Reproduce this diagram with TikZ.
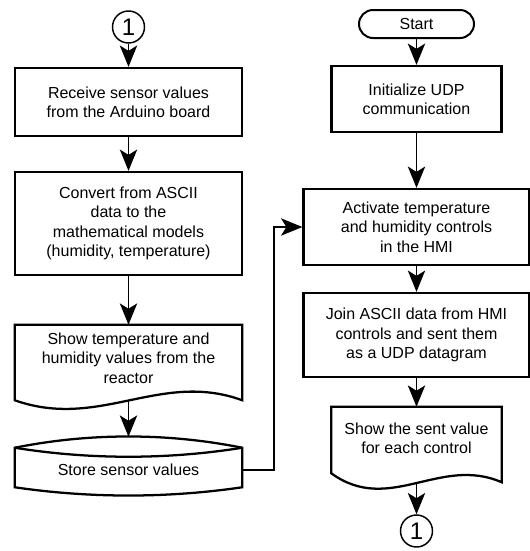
\documentclass[tikz,border=0pt]{standalone}
\usepackage{fontspec}
\setmainfont{Liberation Sans}
\usetikzlibrary{arrows.meta,calc,shapes.misc}

\begin{document}
\begin{tikzpicture}[x=0.75pt,y=-0.75pt,
	txt/.style={align=center,font=\fontsize{12}{14.5}\selectfont,inner sep=0pt},
	procbox/.style={txt,draw,line width=1.7pt,minimum width=170.25pt},
	docbox/.style={txt,minimum width=170.25pt},
	outline/.style={line width=1.7pt},
	termbox/.style={txt,draw,line width=1.5pt,rounded corners=10.5pt,minimum width=86.25pt,minimum height=21pt},
	onpage/.style={circle,draw,line width=1.1pt,minimum size=24pt,inner sep=0pt,font=\fontsize{18}{18}\selectfont},
	conn/.style={draw,line width=1.3pt,-{Stealth[length=16pt,width=13pt,inset=4pt]}}]
	\useasboundingbox (0,0) rectangle (530,551);
	
	%Left column
	\node[onpage] (c1) at (128.5,27) {1};
	\node[procbox,minimum height=51pt] (recv) at (128.5,102) {Receive sensor values\\from the Arduino board};
	\node[procbox,minimum height=77.25pt] (conv) at (128.5,223.5) {Convert from ASCII\\data to the\\mathematical models\\(humidity, temperature)};
	\node[docbox,minimum height=49.5pt] (show) at (128.5,358) {Show temperature and\\humidity values from the\\reactor};
	\node[docbox,minimum height=25.5pt] (store) at (128.5,470) {Store sensor values};
	
	%Right column
	\node[termbox] (start) at (416.5,24) {Start};
	\node[procbox,minimum width=127.5pt,minimum height=49.5pt] (init) at (416.5,99) {Initialize UDP\\communication};
	\node[procbox,minimum width=169.5pt,minimum height=57pt] (act) at (416.5,227) {Activate temperature\\and humidity controls\\in the HMI};
	\node[procbox,minimum width=169.5pt,minimum height=63pt] (join) at (416.5,335) {Join ASCII data from HMI\\controls and sent them\\as a UDP datagram};
	\node[docbox,minimum width=127.5pt,minimum height=46.5pt] (sent) at (416.5,438) {Show the sent value\\for each control};
	\node[onpage] (c2) at (416.5,531) {1};
	
	%Shape: Document
	\draw[outline] (show.north west) -- (show.north east) -- ($(show.south east)+(0,9)$) .. controls ($(show.south east)+(-82,-21)$) and ($(show.south west)+(85,39)$) .. ($(show.south west)+(0,9)$) -- cycle;
	\draw[outline] (sent.north west) -- (sent.north east) -- ($(sent.south east)+(0,13)$) .. controls ($(sent.south east)+(-62,-14)$) and ($(sent.south west)+(58,46)$) .. ($(sent.south west)+(0,4)$) -- cycle;
	%Shape: Stored data
	\draw[outline] ($(store.north west)+(0,-5)$) -- (store.south west) .. controls ($(store.south west)+(75,11)$) and ($(store.south east)+(-75,11)$) .. (store.south east) -- ($(store.north east)+(0,-5)$) .. controls ($(store.north east)+(-75,-20)$) and ($(store.north west)+(75,-20)$) .. ($(store.north west)+(0,-5)$) -- cycle;
	\draw[outline] ($(store.north west)+(0,-5)$) .. controls ($(store.north west)+(75,7)$) and ($(store.north east)+(-75,7)$) .. ($(store.north east)+(0,-5)$);
	
	\coordinate (showb) at ($(show.south)+(0,9)$);
	\coordinate (storet) at ($(store.north)+(0,-16)$);
	\coordinate (sentb) at ($(sent.south)+(0,14)$);
	
	%Connectors
	\draw[conn] (c1) -- (recv);
	\draw[conn] (recv) -- (conv);
	\draw[conn] (conv) -- (show);
	\draw[conn] (showb) -- (storet);
	\draw[conn] (store.east) -- ++(32,0) |- (act.west);
	\draw[conn] (start) -- (init);
	\draw[conn] (init) -- (act);
	\draw[conn] (act) -- (join);
	\draw[conn] (join) -- (sent);
	\draw[conn] (sentb) -- (c2);
	
\end{tikzpicture}
\end{document}
